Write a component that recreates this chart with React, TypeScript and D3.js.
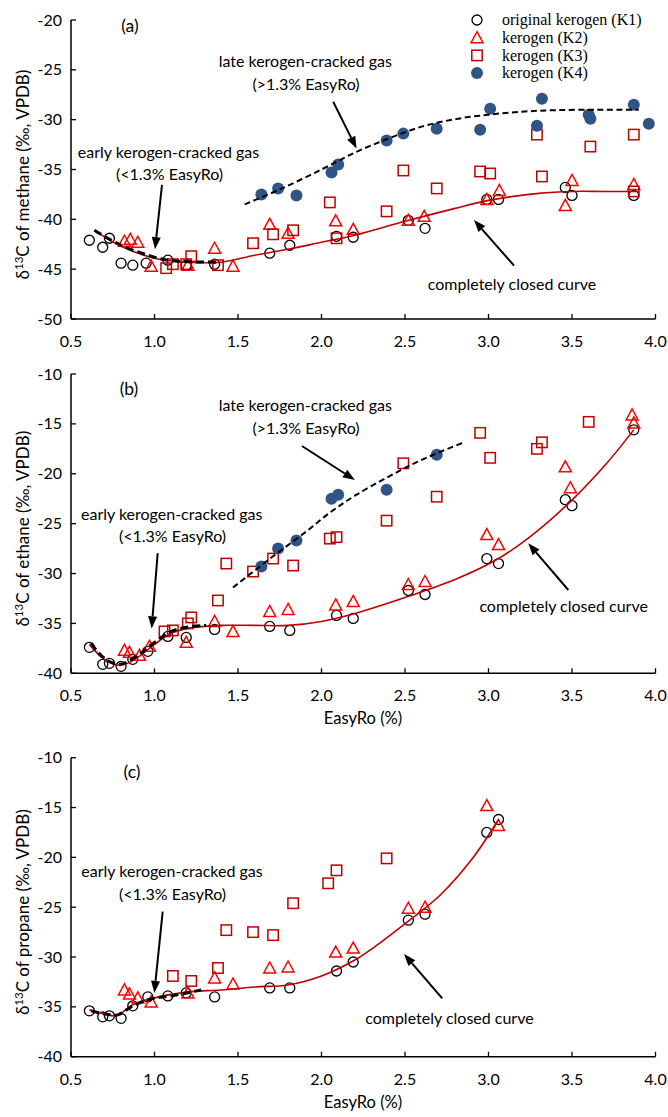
import React from 'react';
import * as d3 from 'd3';

type Pt = [number, number];

// axes
const xTicks = [0.5, 1.0, 1.5, 2.0, 2.5, 3.0, 3.5, 4.0];
const methaneTicks = [-20, -25, -30, -35, -40, -45, -50];
const ethaneTicks = [-10, -15, -20, -25, -30, -35, -40];
const propaneTicks = [-10, -15, -20, -25, -30, -35, -40];
const legendLabels = ['original kerogen (K1)', 'kerogen (K2)', 'kerogen (K3)', 'kerogen (K4)'];

// (a) methane, [EasyRo %, d13C permil]
const methaneK1: Pt[] = [[0.61, -42.1], [0.69, -42.8], [0.73, -41.9], [0.80, -44.4], [0.87, -44.6], [0.95, -44.4], [1.08, -44.1], [1.19, -44.6], [1.36, -44.5], [1.69, -43.4], [1.81, -42.6], [2.09, -41.7], [2.19, -41.8], [2.52, -40.1], [2.62, -40.9], [2.99, -38.0], [3.06, -38.0], [3.46, -36.8], [3.50, -37.6], [3.87, -37.6]];
const methaneK2: Pt[] = [[0.82, -42.2], [0.855, -42.0], [0.90, -42.3], [0.98, -44.7], [1.20, -44.6], [1.36, -42.9], [1.47, -44.7], [1.69, -40.5], [1.80, -41.4], [2.085, -40.15], [2.19, -41.0], [2.52, -40.1], [2.615, -39.7], [2.99, -38.0], [3.065, -37.1], [3.46, -38.6], [3.50, -36.1], [3.87, -36.5]];
const methaneK3: Pt[] = [[1.07, -44.9], [1.11, -44.5], [1.19, -44.5], [1.22, -43.7], [1.38, -44.6], [1.59, -42.4], [1.71, -41.5], [1.83, -41.1], [2.05, -38.3], [2.09, -41.9], [2.39, -39.2], [2.49, -35.1], [2.69, -36.9], [2.95, -35.2], [3.01, -35.4], [3.29, -31.5], [3.32, -35.7], [3.61, -32.7], [3.87, -31.5], [3.87, -37.2]];
const methaneK4: Pt[] = [[1.64, -37.5], [1.74, -36.9], [1.85, -37.6], [2.06, -35.3], [2.10, -34.5], [2.39, -32.1], [2.49, -31.4], [2.69, -30.9], [2.95, -31.0], [3.01, -28.9], [3.29, -30.6], [3.32, -27.9], [3.60, -29.5], [3.61, -29.9], [3.87, -28.5], [3.96, -30.4]];
const methaneClosed: Pt[] = [[0.65, -41.2], [0.8, -42.7], [1.0, -43.9], [1.2, -44.3], [1.4, -44.3], [1.6, -43.6], [1.8, -43.0], [2.0, -42.3], [2.2, -41.6], [2.5, -40.2], [2.8, -38.9], [3.0, -38.1], [3.3, -37.4], [3.5, -37.2], [3.7, -37.2], [3.9, -37.2]];
const methaneEarly: Pt[] = [[0.64, -41.1], [0.8, -42.6], [1.0, -43.8], [1.1, -44.15], [1.2, -44.25], [1.38, -44.3]];
const methaneLate: Pt[] = [[1.54, -38.5], [1.75, -37.0], [2.0, -35.0], [2.2, -33.3], [2.4, -31.9], [2.6, -30.7], [2.8, -29.95], [3.0, -29.5], [3.2, -29.2], [3.4, -29.05], [3.65, -29.0], [3.9, -29.0]];

// (b) ethane
const ethaneK1: Pt[] = [[0.61, -37.4], [0.69, -39.1], [0.73, -39.0], [0.80, -39.3], [0.87, -38.6], [0.96, -37.8], [1.08, -36.3], [1.19, -36.4], [1.36, -35.6], [1.69, -35.3], [1.81, -35.7], [2.09, -34.2], [2.19, -34.5], [2.52, -31.7], [2.62, -32.1], [2.99, -28.5], [3.06, -29.0], [3.46, -22.6], [3.50, -23.2], [3.87, -15.6]];
const ethaneK2: Pt[] = [[0.82, -37.7], [0.85, -37.9], [0.91, -38.2], [0.97, -37.3], [1.19, -36.9], [1.36, -34.8], [1.47, -35.8], [1.69, -33.8], [1.80, -33.6], [2.085, -33.15], [2.19, -32.8], [2.52, -31.1], [2.62, -30.8], [2.99, -26.1], [3.06, -27.1], [3.46, -19.3], [3.49, -21.4], [3.86, -14.1], [3.87, -14.9]];
const ethaneK3: Pt[] = [[1.06, -35.8], [1.11, -35.7], [1.20, -35.0], [1.22, -34.4], [1.38, -32.7], [1.43, -29.0], [1.59, -29.8], [1.71, -28.5], [1.83, -29.2], [2.05, -26.5], [2.09, -26.35], [2.39, -24.7], [2.49, -18.95], [2.69, -22.3], [2.95, -15.9], [3.01, -18.4], [3.29, -17.5], [3.32, -16.85], [3.60, -14.8]];
const ethaneK4: Pt[] = [[1.64, -29.3], [1.74, -27.5], [1.85, -26.7], [2.06, -22.5], [2.10, -22.1], [2.39, -21.6], [2.69, -18.1]];
const ethaneClosed: Pt[] = [[0.61, -37.1], [0.70, -38.6], [0.80, -39.2], [0.90, -38.4], [1.0, -37.1], [1.1, -36.0], [1.2, -35.5], [1.4, -35.2], [1.6, -35.2], [1.8, -35.2], [2.0, -34.8], [2.2, -34.0], [2.5, -32.4], [2.8, -30.6], [3.05, -28.6], [3.25, -26.3], [3.49, -22.8], [3.7, -19.1], [3.87, -15.6]];
const ethaneEarly: Pt[] = [[0.62, -37.0], [0.70, -38.5], [0.79, -39.1], [0.90, -38.2], [1.0, -36.9], [1.1, -35.8], [1.2, -35.35], [1.31, -35.2]];
const ethaneLate: Pt[] = [[1.47, -31.4], [1.7, -28.4], [1.9, -25.9], [2.05, -23.9], [2.2, -22.2], [2.4, -20.3], [2.6, -18.6], [2.86, -16.8]];

// (c) propane
const propaneK1: Pt[] = [[0.61, -35.4], [0.69, -36.0], [0.73, -35.9], [0.80, -36.15], [0.87, -34.9], [0.96, -34.0], [1.08, -33.9], [1.19, -33.6], [1.36, -34.0], [1.69, -33.1], [1.81, -33.1], [2.09, -31.4], [2.19, -30.5], [2.52, -26.3], [2.62, -25.7], [2.99, -17.5], [3.06, -16.2]];
const propaneK2: Pt[] = [[0.82, -33.3], [0.85, -33.7], [0.90, -34.1], [0.98, -34.5], [1.20, -33.6], [1.36, -32.1], [1.47, -32.7], [1.69, -31.1], [1.80, -31.0], [2.085, -29.5], [2.19, -29.1], [2.52, -25.1], [2.62, -25.0], [2.99, -14.8], [3.06, -16.8]];
const propaneK3: Pt[] = [[1.11, -31.9], [1.22, -32.4], [1.38, -31.1], [1.43, -27.3], [1.59, -27.5], [1.71, -27.8], [1.83, -24.6], [2.04, -22.6], [2.09, -21.3], [2.39, -20.1]];
const propaneClosed: Pt[] = [[0.61, -35.3], [0.70, -35.7], [0.77, -35.9], [0.87, -34.8], [1.0, -34.1], [1.2, -33.5], [1.4, -33.3], [1.6, -33.0], [1.8, -32.8], [2.0, -31.9], [2.2, -30.3], [2.3, -29.2], [2.52, -26.4], [2.71, -23.8], [2.9, -20.2], [3.06, -16.2]];
const propaneEarly: Pt[] = [[0.62, -35.4], [0.70, -35.7], [0.78, -35.8], [0.87, -34.9], [0.98, -34.2], [1.1, -33.9], [1.28, -33.3]];

const W = 668;
const H = 1117;
const x = d3.scaleLinear().domain([0.5, 4]).range([71, 655.5]);

const uiFont = 'Lato, "Open Sans", sans-serif';
const black = '#000';
const red = '#ff0000';
const darkRed = '#c00000';
const blue = '#2f5587';

type Note = { text: string; at: Pt };
type Arrow = { from: Pt; to: Pt };
type PanelSpec = {
  tag: string; tagAt: Pt; gas: string; ticks: number[]; top: number; bottom: number;
  k1: Pt[]; k2: Pt[]; k3: Pt[]; k4: Pt[];
  closed: Pt[]; early: Pt[]; late: Pt[];
  notes: Note[]; arrows: Arrow[]; legend?: boolean;
};

const panels: PanelSpec[] = [
  {
    tag: '(a)', tagAt: [0.853, -21.2], gas: 'methane', ticks: methaneTicks, top: 20, bottom: 319,
    k1: methaneK1, k2: methaneK2, k3: methaneK3, k4: methaneK4,
    closed: methaneClosed, early: methaneEarly, late: methaneLate, legend: true,
    notes: [
      { text: 'late kerogen-cracked gas', at: [1.903, -24.72] },
      { text: '(>1.3% EasyRo)', at: [1.907, -27.02] },
      { text: 'early kerogen-cracked gas', at: [1.084, -33.85] },
      { text: '(<1.3% EasyRo)', at: [1.09, -36.05] },
      { text: 'completely closed curve', at: [3.141, -47.09] },
    ],
    arrows: [
      { from: [2.07, -28.2], to: [2.21, -32.9] },
      { from: [1.045, -36.55], to: [1.003, -43.0] },
      { from: [3.153, -44.65], to: [2.913, -40.07] },
    ],
  },
  {
    tag: '(b)', tagAt: [0.847, -12.1], gas: 'ethane', ticks: ethaneTicks, top: 374, bottom: 673.3,
    k1: ethaneK1, k2: ethaneK2, k3: ethaneK3, k4: ethaneK4,
    closed: ethaneClosed, early: ethaneEarly, late: ethaneLate,
    notes: [
      { text: 'late kerogen-cracked gas', at: [1.903, -13.7] },
      { text: '(>1.3% EasyRo)', at: [1.907, -16.0] },
      { text: 'early kerogen-cracked gas', at: [1.103, -24.63] },
      { text: '(<1.3% EasyRo)', at: [1.108, -26.84] },
      { text: 'completely closed curve', at: [3.45, -33.85] },
    ],
    arrows: [
      { from: [1.883, -17.22], to: [2.2, -20.62] },
      { from: [1.019, -27.97], to: [0.983, -35.5] },
      { from: [3.478, -31.65], to: [3.238, -26.97] },
    ],
  },
  {
    tag: '(c)', tagAt: [0.865, -12.04], gas: 'propane', ticks: propaneTicks, top: 757.7, bottom: 1056.7,
    k1: propaneK1, k2: propaneK2, k3: propaneK3, k4: [],
    closed: propaneClosed, early: propaneEarly, late: [],
    notes: [
      { text: 'early kerogen-cracked gas', at: [1.105, -21.97] },
      { text: '(<1.3% EasyRo)', at: [1.108, -24.28] },
      { text: 'completely closed curve', at: [2.766, -36.72] },
    ],
    arrows: [
      { from: [1.049, -25.45], to: [0.999, -33.6] },
      { from: [2.723, -34.14], to: [2.494, -29.7] },
    ],
  },
];

function Marker({ kind, cx, cy }: { kind: string; cx: number; cy: number }) {
  if (kind === 'k1') return <circle cx={cx} cy={cy} r={5} fill="none" stroke={black} strokeWidth={1.3} />;
  if (kind === 'k2')
    return <path d={`M${cx},${cy - 6}L${cx + 6},${cy + 5}L${cx - 6},${cy + 5}Z`} fill="none" stroke={red} strokeWidth={1.5} />;
  if (kind === 'k3') return <rect x={cx - 5.2} y={cy - 5.2} width={10.4} height={10.4} fill="none" stroke={darkRed} strokeWidth={1.5} />;
  return <circle cx={cx} cy={cy} r={6} fill={blue} />;
}

function ArrowMark({ a, y }: { a: Arrow; y: d3.ScaleLinear<number, number> }) {
  const x1 = x(a.from[0]), y1 = y(a.from[1]);
  const x2 = x(a.to[0]), y2 = y(a.to[1]);
  const ang = Math.atan2(y2 - y1, x2 - x1);
  const len = 12, half = 4.5;
  const bx = x2 - len * Math.cos(ang), by = y2 - len * Math.sin(ang);
  const px = -Math.sin(ang) * half, py = Math.cos(ang) * half;
  return (
    <g>
      <line x1={x1} y1={y1} x2={bx} y2={by} stroke={black} strokeWidth={2} />
      <path d={`M${x2},${y2}L${bx + px},${by + py}L${bx - px},${by - py}Z`} fill={black} />
    </g>
  );
}

function Panel({ p }: { p: PanelSpec }) {
  const y = d3.scaleLinear().domain([p.ticks[p.ticks.length - 1], p.ticks[0]]).range([p.bottom, p.top]);
  const line = d3.line<Pt>().x(d => x(d[0])).y(d => y(d[1])).curve(d3.curveCatmullRom.alpha(0.5));
  const mid = (p.top + p.bottom) / 2 + 5;
  const series: [string, Pt[]][] = [['k1', p.k1], ['k2', p.k2], ['k3', p.k3], ['k4', p.k4]];
  return (
    <g>
      {/* axes */}
      <line x1={x(0.5)} x2={x(0.5)} y1={p.top} y2={p.bottom} stroke={black} strokeWidth={1.5} />
      <line x1={x(0.5)} x2={x(4)} y1={p.bottom} y2={p.bottom} stroke={black} strokeWidth={1.5} />
      {p.ticks.map(t => (
        <g key={t}>
          <line x1={x(0.5)} x2={x(0.5) + 5} y1={y(t)} y2={y(t)} stroke={black} strokeWidth={1.3} />
          <text x={62} y={y(t)} dy="0.35em" textAnchor="end" fontSize={16} fontFamily={uiFont}>{t}</text>
        </g>
      ))}
      {xTicks.map(t => (
        <g key={t}>
          <line x1={x(t)} x2={x(t)} y1={p.bottom} y2={p.bottom - 5} stroke={black} strokeWidth={1.3} />
          <text x={x(t)} y={p.bottom + 28} textAnchor="middle" fontSize={16} fontFamily={uiFont}>{t.toFixed(1)}</text>
        </g>
      ))}
      <text transform={`translate(29,${mid}) rotate(-90)`} textAnchor="middle" fontSize={17} fontFamily={uiFont}>
        δ<tspan fontSize={11.5} dy={-6}>13</tspan><tspan dy={6}>C of {p.gas} (‰, VPDB)</tspan>
      </text>
      {p.gas !== 'methane' && (
        <text x={363} y={p.bottom + 51} textAnchor="middle" fontSize={16.5} fontFamily={uiFont}>EasyRo (%)</text>
      )}
      <text x={x(p.tagAt[0])} y={y(p.tagAt[1])} textAnchor="middle" fontSize={17.5} fontFamily={uiFont}>{p.tag}</text>

      {/* points */}
      {series.map(([k, pts]) => pts.map((d, i) => <Marker key={k + i} kind={k} cx={x(d[0])} cy={y(d[1])} />))}

      {/* curves */}
      <path d={line(p.closed) ?? ''} fill="none" stroke={darkRed} strokeWidth={1.6} />
      <path d={line(p.early) ?? ''} fill="none" stroke={black} strokeWidth={3} strokeDasharray="8,4" />
      {p.late.length > 0 && <path d={line(p.late) ?? ''} fill="none" stroke={black} strokeWidth={2} strokeDasharray="6,3.5" />}

      {/* notes */}
      {p.notes.map((n, i) => (
        <text key={i} x={x(n.at[0])} y={y(n.at[1])} textAnchor="middle" fontSize={16} fontFamily={uiFont}>{n.text}</text>
      ))}
      {p.arrows.map((a, i) => <ArrowMark key={i} a={a} y={y} />)}

      {p.legend && legendLabels.map((l, i) => (
        <g key={l}>
          <Marker kind={'k' + (i + 1)} cx={477} cy={20 + i * 17.7} />
          <text x={502} y={20 + i * 17.7} dy="0.33em" fontSize={16} fontFamily='"Liberation Serif", "Times New Roman", serif'>{l}</text>
        </g>
      ))}
    </g>
  );
}

export default function App() {
  return (
    <svg width={W} height={H} style={{ position: 'absolute', left: 0, top: 0, background: '#fff' }}>
      <rect width={W} height={H} fill="#fff" />
      {panels.map(p => <Panel key={p.tag} p={p} />)}
    </svg>
  );
}
